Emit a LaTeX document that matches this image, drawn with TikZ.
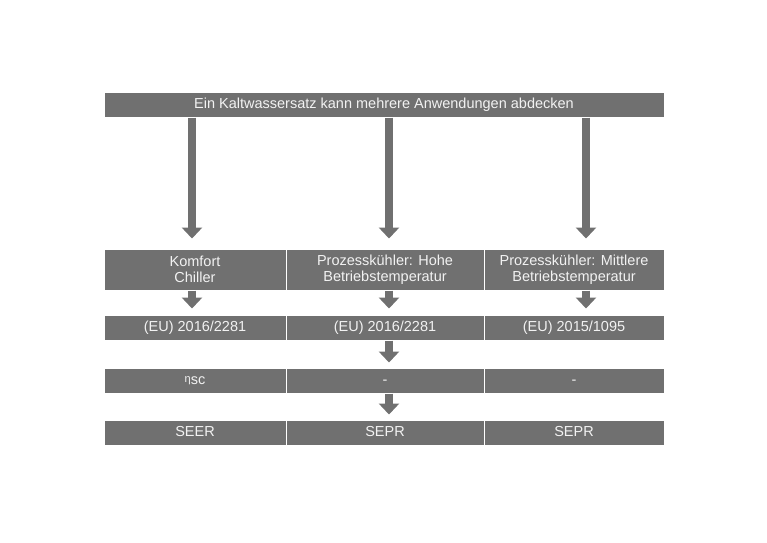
\documentclass[tikz,border=0pt]{standalone}
\usepackage{fontspec}
\setmainfont{Liberation Sans}
\usetikzlibrary{arrows.meta}
\definecolor{boxgray}{HTML}{707070}
\definecolor{boxtext}{HTML}{F2F2F2}
\begin{document}
\begin{tikzpicture}[
        x=1pt, y=-1pt,
        cell/.style={draw=white, line width=1pt, fill=boxgray, text=boxtext,
            font=\fontsize{14.5}{16}\selectfont, inner sep=0pt, align=center},
        row1/.style={cell, minimum height=41pt},
        rown/.style={cell, minimum height=25pt, text height=10.5pt, text depth=3pt},
        col1/.style={minimum width=182pt},
        col2/.style={minimum width=198pt},
        col3/.style={minimum width=180pt},
        arr/.style={draw=boxgray, line width=8pt, -{Triangle[width=20pt,length=11pt]}},
    ]
    \useasboundingbox (0,0) rectangle (767,542);
    % top bar
    \node[rown, minimum width=560pt](top) at (384,104.5){Ein Kaltwassersatz kann mehrere Anwendungen abdecken};
    % applications
    \node[row1, col1](app1) at (195,269.5){Komfort\\Chiller};
    \node[row1, col2](app2) at (385,269.5){Prozesskühler: Hohe\\Betriebstemperatur};
    \node[row1, col3](app3) at (574,269.5){Prozesskühler: Mittlere\\Betriebstemperatur};
    % regulations
    \node[rown, col1](reg1) at (195,327.5){(EU) 2016/2281};
    \node[rown, col2](reg2) at (385,327.5){(EU) 2016/2281};
    \node[rown, col3](reg3) at (574,327.5){(EU) 2015/1095};
    % efficiency
    \node[rown, col1](eff1) at (195,380.5){\raisebox{2pt}{\fontsize{11}{12}\selectfont η}sc};
    \node[rown, col2](eff2) at (385,380.5){-};
    \node[rown, col3](eff3) at (574,380.5){-};
    % ratings
    \node[rown, col1](rat1) at (195,432.5){SEER};
    \node[rown, col2](rat2) at (385,432.5){SEPR};
    \node[rown, col3](rat3) at (574,432.5){SEPR};
    % arrow lines
    \coordinate (ax1) at (192,0);
    \coordinate (ax2) at (389,0);
    \coordinate (ax3) at (586,0);
    \foreach \i in {1,2,3}{
        \draw[arr, shorten >=10pt] (top.south -| ax\i) -- (app\i.north -| ax\i);
        \draw[arr, shorten >=6pt] (app\i.south -| ax\i) -- (reg\i.north -| ax\i);
    }
    \draw[arr, shorten >=5pt] (reg2.south -| ax2) -- (eff2.north -| ax2);
    \draw[arr, shorten >=5pt] (eff2.south -| ax2) -- (rat2.north -| ax2);
\end{tikzpicture}
\end{document}
